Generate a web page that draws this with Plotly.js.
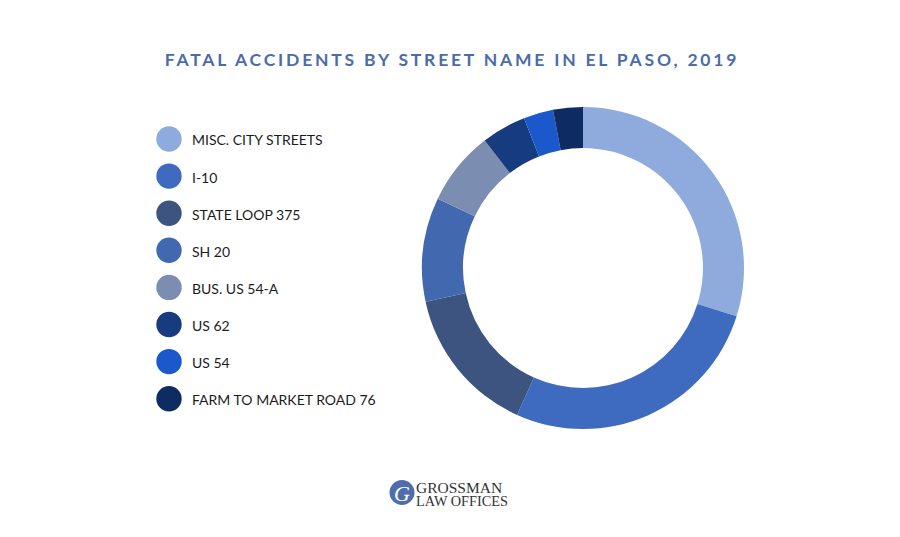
<!DOCTYPE html>
<html>
<head>
<meta charset="utf-8">
<script src="https://cdn.plot.ly/plotly-3.0.1.min.js"></script>
<style>
html,body{margin:0;padding:0;background:#fff;}
#chart{width:900px;height:537px;}
.gtitle{letter-spacing:2.8px;}
</style>
</head>
<body>
<div id="chart"></div>
<script>
// Data
const streets = ["MISC. CITY STREETS","I-10","STATE LOOP 375","SH 20","BUS. US 54-A","US 62","US 54","FARM TO MARKET ROAD 76"];
const fatalAccidents = [20, 18, 10, 7, 5, 3, 2, 2];
const sliceColors = ["#8FABDD","#3E6BC0","#3D5380","#4268AF","#7B8DB1","#173B7F","#1B58CC","#0E2B62"];

const W = 900, H = 537;
const px = x => x / W;
const py = y => 1 - y / H;

// Donut geometry (pixels)
const cx = 583, cy = 268, R = 161;

const trace = {
  type: "pie",
  labels: streets,
  values: fatalAccidents,
  marker: {colors: sliceColors, line: {width: 0}},
  hole: 0.745,
  sort: false,
  direction: "clockwise",
  rotation: 0,
  textinfo: "none",
  hoverinfo: "label+value+percent",
  showlegend: false,
  domain: {x: [px(cx - R), px(cx + R)], y: [py(cy + R), py(cy - R)]}
};

const shapes = [];
const annotations = [];
const legX = 169, legY0 = 139, legStep = 37.1, legR = 12.7;
streets.forEach((s, i) => {
  const y = legY0 + i * legStep;
  shapes.push({type: "circle", xref: "paper", yref: "paper",
    x0: px(legX - legR), x1: px(legX + legR), y0: py(y + legR), y1: py(y - legR),
    fillcolor: sliceColors[i], line: {width: 0}});
  annotations.push({xref: "paper", yref: "paper", x: px(190), y: py(y + 1),
    xanchor: "left", yanchor: "middle", showarrow: false, text: s,
    font: {family: "Lato, 'Open Sans', sans-serif", size: 14, color: "#1c1c1c"}});
});

// Logo
shapes.push({type: "circle", xref: "paper", yref: "paper",
  x0: px(389.5), x1: px(414.5), y0: py(505), y1: py(480),
  fillcolor: "#4E6DAD", line: {width: 0}});
annotations.push({xref: "paper", yref: "paper", x: px(402), y: py(493), xanchor: "center", yanchor: "middle",
  showarrow: false, text: "<i>G</i>", font: {family: "Liberation Serif, serif", size: 22, color: "#fff"}});
annotations.push({xref: "paper", yref: "paper", x: px(415), y: py(487.5), xanchor: "left", yanchor: "middle",
  showarrow: false, borderpad: 0, text: "GROSSMAN", font: {family: "Liberation Serif, serif", size: 15.5, color: "#333"}});
annotations.push({xref: "paper", yref: "paper", x: px(415), y: py(500.5), xanchor: "left", yanchor: "middle",
  showarrow: false, borderpad: 0, text: "LAW OFFICES", font: {family: "Liberation Serif, serif", size: 14.3, color: "#333"}});

const layout = {
  width: W, height: H,
  margin: {l: 0, r: 0, t: 0, b: 0},
  paper_bgcolor: "#fff",
  title: {text: "<b>FATAL ACCIDENTS BY STREET NAME IN EL PASO, 2019</b>",
    x: px(452), xanchor: "center", y: py(60), yanchor: "middle",
    font: {family: "Lato, 'Open Sans', sans-serif", size: 17.5, color: "#4B6CA9"}},
  shapes: shapes,
  annotations: annotations,
  showlegend: false
};

Plotly.newPlot("chart", [trace], layout, {displayModeBar: false, staticPlot: true});
</script>
</body>
</html>
